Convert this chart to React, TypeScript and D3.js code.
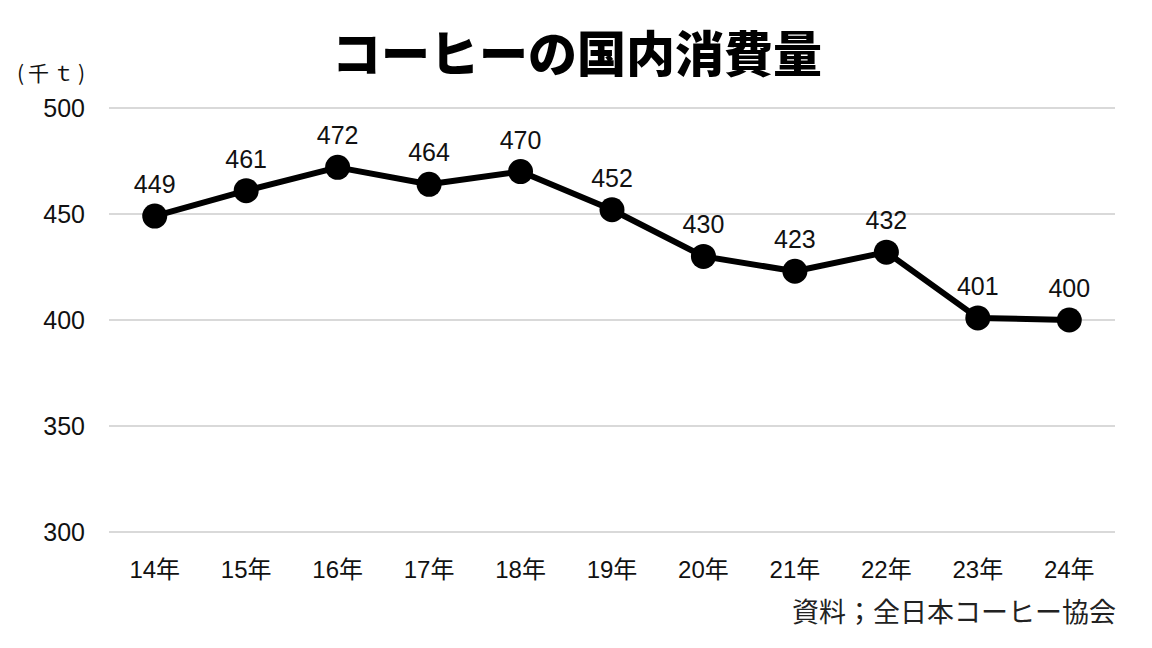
import React, { useEffect, useRef } from "react";
import * as d3 from "d3";

const years = ["14年", "15年", "16年", "17年", "18年", "19年", "20年", "21年", "22年", "23年", "24年"];
const consumption = [449, 461, 472, 464, 470, 452, 430, 423, 432, 401, 400];
const yTicks = [300, 350, 400, 450, 500];

const W = 1152;
const H = 648;

export default function App() {
  const ref = useRef<SVGSVGElement>(null);

  useEffect(() => {
    const svg = d3.select(ref.current);
    svg.selectAll("*").remove();

    const font = "'Liberation Sans', Arial, 'Noto Sans CJK JP', sans-serif";
    const left = 109, right = 1115, top = 108, bottom = 532;

    const x = d3.scaleBand().domain(years).range([left, right]);
    const y = d3.scaleLinear().domain([300, 500]).range([bottom, top]);
    const cx = (d: string) => (x(d) as number) + x.bandwidth() / 2;

    // grid
    svg.append("g")
      .selectAll("line")
      .data(yTicks)
      .enter()
      .append("line")
      .attr("x1", left)
      .attr("x2", right)
      .attr("y1", d => y(d))
      .attr("y2", d => y(d))
      .attr("stroke", "#d9d9d9")
      .attr("stroke-width", 2);

    svg.append("g")
      .selectAll("text")
      .data(yTicks)
      .enter()
      .append("text")
      .attr("x", 85)
      .attr("y", d => y(d))
      .attr("dy", "0.35em")
      .attr("text-anchor", "end")
      .attr("font-family", font)
      .attr("font-size", 25)
      .attr("fill", "#111")
      .text(d => d);

    svg.append("g")
      .selectAll("text")
      .data(years)
      .enter()
      .append("text")
      .attr("x", d => cx(d))
      .attr("y", 578)
      .attr("text-anchor", "middle")
      .attr("font-family", font)
      .attr("font-size", 24)
      .attr("fill", "#111")
      .text(d => d);

    const pts = years.map((d, i) => ({ year: d, v: consumption[i] }));

    const line = d3.line<{ year: string; v: number }>()
      .x(d => cx(d.year))
      .y(d => y(d.v));

    svg.append("path")
      .datum(pts)
      .attr("d", line)
      .attr("fill", "none")
      .attr("stroke", "#000")
      .attr("stroke-width", 6)
      .attr("stroke-linejoin", "round");

    svg.append("g")
      .selectAll("circle")
      .data(pts)
      .enter()
      .append("circle")
      .attr("cx", d => cx(d.year))
      .attr("cy", d => y(d.v))
      .attr("r", 12.5)
      .attr("fill", "#000");

    svg.append("g")
      .selectAll("text")
      .data(pts)
      .enter()
      .append("text")
      .attr("x", d => cx(d.year))
      .attr("y", d => y(d.v) - 23)
      .attr("text-anchor", "middle")
      .attr("font-family", font)
      .attr("font-size", 25)
      .attr("fill", "#111")
      .text(d => d.v);

    svg.append("text")
      .attr("x", 577)
      .attr("y", 72)
      .attr("text-anchor", "middle")
      .attr("font-family", "'Noto Sans CJK JP', sans-serif")
      .attr("font-weight", 900)
      .attr("font-size", 49)
      .attr("fill", "#000")
      .text("コーヒーの国内消費量");

    svg.append("text")
      .attr("x", 17)
      .attr("y", 81)
      .attr("font-family", "'Noto Sans CJK JP', sans-serif")
      .attr("font-size", 21)
      .attr("letter-spacing", 4)
      .attr("fill", "#111")
      .text("(千ｔ)");

    svg.append("text")
      .attr("x", 1116)
      .attr("y", 622)
      .attr("text-anchor", "end")
      .attr("font-family", "'Noto Sans CJK JP', sans-serif")
      .attr("font-size", 27)
      .attr("fill", "#222")
      .text("資料；全日本コーヒー協会");
  }, []);

  return (
    <svg
      ref={ref}
      width={W}
      height={H}
      style={{ position: "absolute", left: 0, top: 0, background: "#fff" }}
    />
  );
}
